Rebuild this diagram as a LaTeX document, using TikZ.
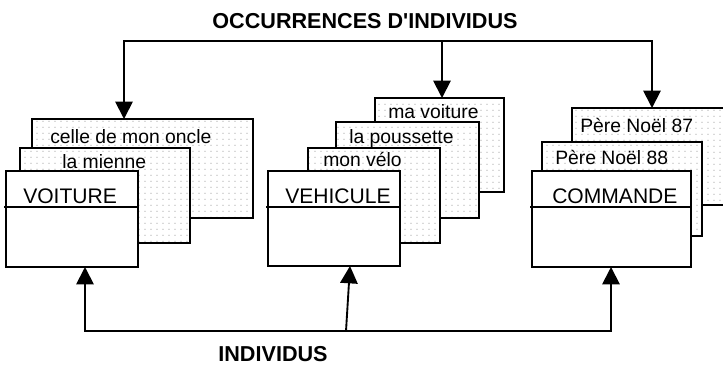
\documentclass[tikz,border=0pt]{standalone}
\usepackage{fontspec}
\setmainfont{Liberation Sans}[Ligatures=TeXOff]
\usetikzlibrary{arrows.meta,patterns,calc}
\pgfdeclarepatternformonly{dotgrid}{\pgfqpoint{0pt}{0pt}}{\pgfqpoint{4.35pt}{4.35pt}}{\pgfqpoint{4.35pt}{4.35pt}}{\pgfpathrectangle{\pgfqpoint{1pt}{1pt}}{\pgfqpoint{1.1pt}{0.6pt}}\pgfusepath{fill}}
\newcommand\mkcard[6]{\node[#6, minimum width={(#4-(#2))*0.75pt}, minimum height={(#5-(#3))*0.75pt}] (#1) at ({(#2+#4)/2},{(#3+#5)/2}) {};}
\tikzset{
  card/.style={draw, line width=1.6pt, preaction={fill=white}, pattern=dotgrid, pattern color=gray!70, inner sep=0pt, outer sep=0pt},
  front/.style={draw, line width=1.6pt, fill=white, inner sep=0pt, outer sep=0pt},
  small/.style={anchor=base west, inner sep=0pt, font=\fontsize{14.5}{16}\selectfont},
  big/.style={anchor=base west, inner sep=0pt, font=\fontsize{15.8}{18}\selectfont},
  head/.style={anchor=base, inner sep=0pt, font=\fontsize{16.2}{18}\selectfont\bfseries},
  arr/.style={line width=1.4pt, line join=miter, -{Triangle[width=13pt,length=13pt]}}
}
\begin{document}
\begin{tikzpicture}[x=0.75pt,y=-0.75pt]
\useasboundingbox (0,0) rectangle (723,364);
% left group
\mkcard{c1}{32}{119}{253}{218}{card}
\node[small] (t1) at (50,143) {celle de mon oncle};
\mkcard{c2}{20}{148}{190}{243}{card}
\node[small] (t2) at (62,168) {la mienne};
\mkcard{c3}{6}{171}{138}{267}{front}
\node[big] (t3) at (23,203) {VOITURE};
\draw[line width=1.6pt] (4,207) -- (138,207);
% middle group
\mkcard{m1}{375}{98}{504}{192}{card}
\node[small] (u1) at (388,118) {ma voiture};
\mkcard{m2}{336}{122}{479}{218}{card}
\node[small] (u2) at (349,143) {la poussette};
\mkcard{m3}{308}{148}{440}{243}{card}
\node[small] (u3) at (323,166) {mon vélo};
\mkcard{m4}{268}{171}{400}{266}{front}
\node[big] (u4) at (285,203) {VEHICULE};
\draw[line width=1.6pt] (266,207) -- (400,207);
% right group
\mkcard{r1}{572}{108}{740}{205}{card}
\node[small] (v1) at (580,132) {Père Noël 87};
\mkcard{r2}{542}{142}{702}{236}{card}
\node[small] (v2) at (555,164) {Père Noël 88};
\mkcard{r3}{532}{171}{691}{267}{front}
\node[big] (v3) at (552,203) {COMMANDE};
\draw[line width=1.6pt] (530,207) -- (691,207);
% titles
\node[head] (title) at (365,28) {OCCURRENCES D'INDIVIDUS};
\node[head] (indiv) at (273,361) {INDIVIDUS};
% top connectors
\coordinate (tl) at (124,41);
\coordinate (tm) at (442,41);
\coordinate (tr) at (652,41);
\draw[arr] (tm) -- (tl) -- (tl |- c1.north);
\draw[arr] (tm) -- (tr) -- (tr |- r1.north);
\draw[arr] (tm) -- (tm |- m1.north);
% bottom connectors
\coordinate (bl) at (85,331);
\coordinate (bm) at (346,331);
\coordinate (br) at (611,331);
\draw[arr] (bm) -- (bl) -- (bl |- c3.south);
\draw[arr] (bm) -- (br) -- (br |- r3.south);
\draw[arr] (bm) -- ($(bm |- m4.south)+(4,0)$);
\end{tikzpicture}
\end{document}
